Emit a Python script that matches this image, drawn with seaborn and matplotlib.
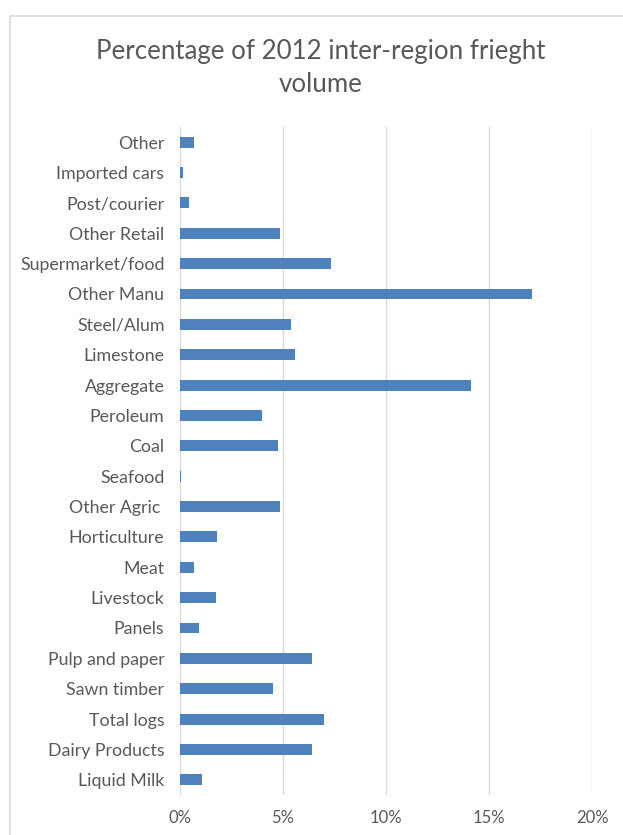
import matplotlib
matplotlib.use("Agg")
import matplotlib.pyplot as plt
import seaborn as sns
import pandas as pd
from matplotlib.patches import Rectangle
from matplotlib.ticker import FuncFormatter

categories = ["Other", "Imported cars", "Post/courier", "Other Retail", "Supermarket/food",
              "Other Manu", "Steel/Alum", "Limestone", "Aggregate", "Peroleum", "Coal",
              "Seafood", "Other Agric ", "Horticulture", "Meat", "Livestock", "Panels",
              "Pulp and paper", "Sawn timber", "Total logs", "Dairy Products", "Liquid Milk"]
values = [0.68, 0.14, 0.44, 4.85, 7.33, 17.1, 5.39, 5.61, 14.12, 4.01, 4.77,
          0.08, 4.87, 1.81, 0.71, 1.76, 0.92, 6.39, 4.53, 7.0, 6.39, 1.1]
x_ticks = [0, 5, 10, 15, 20]
title = "Percentage of 2012 inter-region frieght\nvolume"

df = pd.DataFrame({"category": categories, "value": values})

sns.set_theme(style="white")
plt.rcParams["font.family"] = ["Lato", "DejaVu Sans"]

fig = plt.figure(figsize=(6.23, 8.35), dpi=100)
ax = fig.add_axes([179.7 / 623, 1 - 795 / 835, (592.3 - 179.7) / 623, (795 - 127) / 835])

sns.barplot(data=df, y="category", x="value", orient="h", color="#4F81BD",
            width=0.36, saturation=1, linewidth=0, ax=ax, zorder=3)

ax.set_xlim(0, 20)
ax.set_xticks(x_ticks)
ax.xaxis.set_major_formatter(FuncFormatter(lambda v, p: f"{v:.0f}%"))
ax.grid(axis="x", color="#D9D9D9", linewidth=1, zorder=0)
ax.grid(axis="y", visible=False)
for s in ax.spines.values():
    s.set_visible(False)
ax.set_xlabel("")
ax.set_ylabel("")
ax.tick_params(axis="y", length=0, pad=11, labelsize=12.8, labelcolor="#595959")
ax.tick_params(axis="x", length=0, pad=11, labelsize=12, labelcolor="#595959")

fig.text(321 / 623, 1 - 68 / 835, title, ha="center", va="center",
         fontsize=18.6, color="#595959", linespacing=1.45)

fig.patches.append(Rectangle((9.5 / 623, -0.1), 1.2, 1 - 16.5 / 835 + 0.1,
                             transform=fig.transFigure, fill=False,
                             edgecolor="#D9D9D9", linewidth=1.2))

fig.savefig("out.png", dpi=100)
